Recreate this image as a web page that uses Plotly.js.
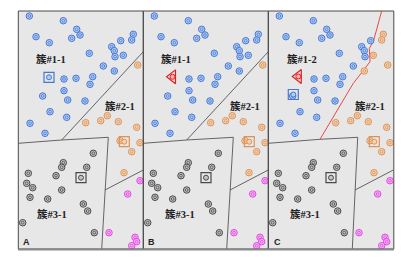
<!DOCTYPE html>
<html><head><meta charset="utf-8">
<script src="https://cdn.plot.ly/plotly-3.0.1.min.js"></script>
<style>body{margin:0;background:#fff}#c{width:403px;height:266px}</style>
</head><body><div id="c"></div>
<script>
// Panel-local coordinates (x right, y down)
const blueX = [11,45,17.7,58.4,61.7,53.4,31,115,113.4,102.4,93.4,96,96.7,105,71,85,96,45.7,57.7,74.4,71.7,45.7,24.4,49.4,66.7,31.7,48.4,11.7,26.7];
const blueY = [5,9.7,25.7,18.3,24,27.3,31.7,23.3,29,29.7,35.7,39.7,45.7,44.3,42.3,55,60,68,67.3,65.7,73.3,79.7,85,89,90,100.7,106.3,112.3,122.3];
const orangeX = [119.4,89,82.4,67.4,100,118.4,101.7,121.7,113.4,105.7];
const orangeY = [54,104.7,109.7,111.7,110.7,116.3,129.7,131.7,140.7,161.7];
const grayX = [75,45,43.4,68.4,10,37.7,8.4,14.4,43.4,11.7,29.4,65,69.4,4.4,76];
const grayY = [142.3,151.7,156.3,156.3,162.3,164.7,172.3,176.7,179,186.3,188,193,200,211.7,221.7];
const magX = [121.7,109.4,90.7,116.7,118.4,113.4];
const magY = [169.7,183,221.7,226.3,230.7,234.7];
// blue points reassigned to cluster 2 in panel C
const movedInC = [7,8,13,16];
// special markers
const blueSqA = [30.7,66.3], blueSqC = [25,83.5];
const triB = [29.2,65.8], triC = [30,65.5];
const orangeSq = [106,130.7], graySq = [62.7,166.7];
// boundaries
const line12X = [43.4,125], line12Y = [129,40.7];
const line3topX = [0,43.4,90], line3topY = [132.3,129,126.3];
const line3topCX = [0,51.7,89.4], line3topCY = [132.3,128.3,126.3];
const line3rX = [90,83.4], line3rY = [126.3,238];
const line3rCX = [89.4,84], line3rCY = [126.3,238];
const line24X = [86.7,125], line24Y = [179,159];
const redX = [113.4,107.7,105,101,101.7,96.7,85,51.7];
const redY = [0,22.3,30.7,37.3,50.7,57.3,72.3,128.3];
const labels = [["簇#1-1","簇#2-1","簇#3-1"],["簇#1-1","簇#2-1","簇#3-1"],["簇#1-2","簇#2-1","簇#3-1"]];
const letters = ["A","B","C"];

const W=403,H=266;
const px = [[18.3,143.3],[143.3,268.3],[268.3,393.8]];
const yTop=11, yBot=249;
const cols = {
  blue:{line:'#4677d6',fill:'#b4cdf3'},
  orange:{line:'#dc9256',fill:'#f4d4b6'},
  gray:{line:'#4a4a4a',fill:'#c2c2c2'},
  mag:{line:'#e04ae0',fill:'#f6b4f6'}
};
const traces=[]; const shapes=[]; const ann=[];
const layout = {width:W,height:H,margin:{l:0,r:0,t:0,b:0},paper_bgcolor:'#fff',plot_bgcolor:'#e7e7e7',showlegend:false};

function pts(ax,ay,X,Y,c){
  traces.push({type:'scatter',mode:'markers',x:X,y:Y,xaxis:ax,yaxis:ay,hoverinfo:'skip',
    marker:{symbol:'circle',size:6.5,color:c.fill,line:{color:c.line,width:1}}});
  traces.push({type:'scatter',mode:'markers',x:X,y:Y,xaxis:ax,yaxis:ay,hoverinfo:'skip',
    marker:{symbol:'circle-open',size:2.8,color:c.line,line:{color:c.line,width:0.8}}});
}
function special(ax,ay,p,sym,c,size){
  traces.push({type:'scatter',mode:'markers',x:[p[0]],y:[p[1]],xaxis:ax,yaxis:ay,hoverinfo:'skip',
    marker:{symbol:sym,size:size,color:c.line,line:{color:c.line,width:1.2}}});
  traces.push({type:'scatter',mode:'markers',x:[p[0]],y:[p[1]],xaxis:ax,yaxis:ay,hoverinfo:'skip',
    marker:{symbol:'circle',size:5,color:c.fill,line:{color:c.line,width:1}}});
}
function ln(ax,ay,X,Y,color,w){
  traces.push({type:'scatter',mode:'lines',x:X,y:Y,xaxis:ax,yaxis:ay,hoverinfo:'skip',line:{color:color,width:w||1}});
}
const red={line:'#e02020',fill:'#f5b0b0'};
for(let p=0;p<3;p++){
  const s = p===0?'':String(p+1);
  const ax='x'+s, ay='y'+s;
  layout['xaxis'+s]={domain:[px[p][0]/W,px[p][1]/W],range:[0,px[p][1]-px[p][0]],visible:false,fixedrange:true};
  layout['yaxis'+s]={domain:[1-yBot/H,1-yTop/H],range:[yBot-yTop,0],visible:false,fixedrange:true};
  if(p<2){ ln(ax,ay,line12X,line12Y,'#555',0.9); ln(ax,ay,line3topX,line3topY,'#555',0.9); ln(ax,ay,line3rX,line3rY,'#555',0.9);}
  else { ln(ax,ay,line3topCX,line3topCY,'#555',0.9); ln(ax,ay,line3rCX,line3rCY,'#555',0.9); ln(ax,ay,redX,redY,'#e84848',1);}
  ln(ax,ay,line24X,line24Y,'#555',0.9);
  let bX=[],bY=[],oX=orangeX.slice(),oY=orangeY.slice();
  blueX.forEach((v,i)=>{ if(p===2 && movedInC.includes(i)){oX.push(v);oY.push(blueY[i]);} else {bX.push(v);bY.push(blueY[i]);} });
  pts(ax,ay,bX,bY,cols.blue); pts(ax,ay,oX,oY,cols.orange); pts(ax,ay,grayX,grayY,cols.gray); pts(ax,ay,magX,magY,cols.mag);
  if(p===0) special(ax,ay,blueSqA,'square-open',cols.blue,10);
  if(p===1) special(ax,ay,triB,'triangle-left-open',red,12);
  if(p===2){ special(ax,ay,blueSqC,'square-open',cols.blue,10); special(ax,ay,triC,'triangle-left-open',red,12);}
  special(ax,ay,orangeSq,'square-open',cols.orange,10);
  special(ax,ay,graySq,'square-open',cols.gray,10);
  const lf={family:'Liberation Serif, Noto Sans CJK SC, serif',size:10.5,color:'#222'};
  const lpos=[[p===2?33.4:32.2,48.3],[101.7,95],[p===0?33.4:36.5,202.5]];
  labels[p].forEach((t,i)=>ann.push({xref:ax,yref:ay,x:lpos[i][0],y:lpos[i][1],text:'<b>'+t+'</b>',showarrow:false,font:lf,xanchor:'center',yanchor:'middle'}));
  ann.push({xref:ax,yref:ay,x:p===2?3.2:2.5,y:230.7,text:'<b>'+letters[p]+'</b>',showarrow:false,xanchor:'left',yanchor:'middle',font:{family:'Liberation Sans, Arial, sans-serif',size:9,color:'#222'}});
  shapes.push({type:'rect',xref:ax+' domain',yref:ay+' domain',x0:0,x1:1,y0:0,y1:1,line:{color:'#4a4a4a',width:1}});
}
shapes.push({type:'line',xref:'paper',yref:'paper',x0:18/W,x1:394/W,y0:1-249.5/H,y1:1-249.5/H,line:{color:'#8a8a8a',width:2}});
layout.shapes=shapes; layout.annotations=ann;
Plotly.newPlot('c',traces,layout,{displayModeBar:false,staticPlot:true});
</script></body></html>
